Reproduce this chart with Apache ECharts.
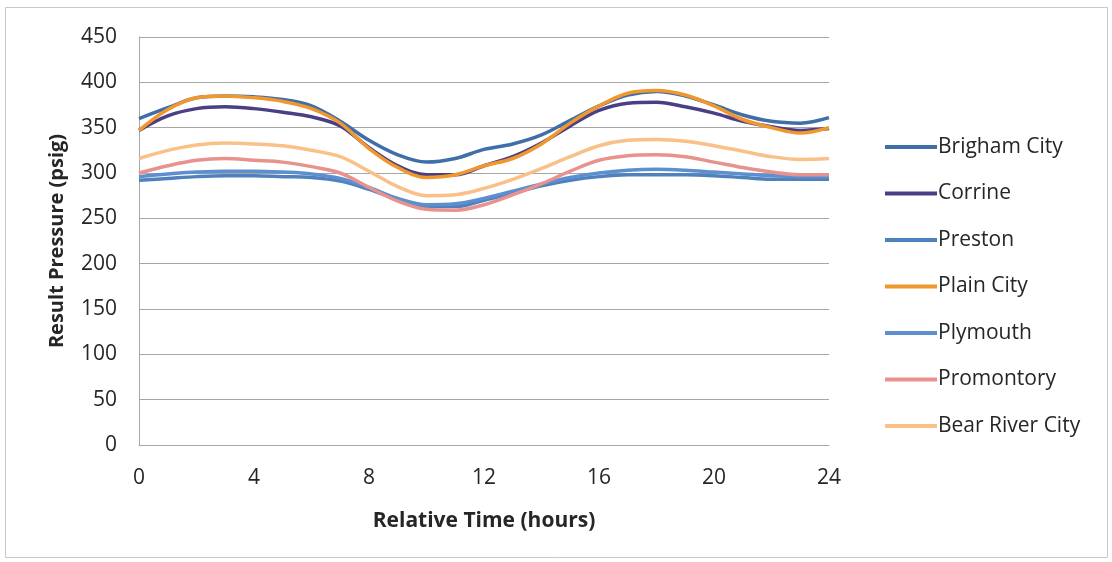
<!DOCTYPE html>
<html>
<head>
<meta charset="utf-8">
<script src="https://cdn.jsdelivr.net/npm/echarts@6/dist/echarts.min.js"></script>
<style>html,body{margin:0;padding:0;background:#fff;}#c{width:1112px;height:562px;}</style>
</head>
<body>
<div id="c"></div>
<script>
const hours = [0,1,2,3,4,5,6,7,8,9,10,11,12,13,14,15,16,17,18,19,20,21,22,23,24];
const brighamCity = [360,372,383,385,384,381,374,357,336,320,312,316,326,332,342,358,374,386,390,385,375,364,357,355,361];
const corrine     = [347,363,371,373,371,367,362,352,328,308,298,298,308,318,333,352,369,377,378,373,366,357,351,347,349];
const preston     = [292,294,296,297,297,296,295,291,282,271,263,263,270,278,286,292,296,298,298,298,297,295,293,293,293];
const plainCity   = [347,370,383,385,383,379,371,355,327,306,295,298,308,316,332,355,374,388,391,386,374,359,350,344,350];
const plymouth    = [296,299,301,302,302,301,299,294,284,272,265,266,272,280,288,295,300,303,304,303,301,299,297,296,296];
const promontory  = [300,308,314,316,314,312,307,300,284,269,260,259,265,276,288,302,314,319,320,318,312,306,301,298,298];
const bearRiver   = [316,325,331,333,332,330,325,318,302,285,275,276,283,293,305,318,330,336,337,335,330,324,318,315,316];
const seriesNames = ['Brigham City','Corrine','Preston','Plain City','Plymouth','Promontory','Bear River City'];
const seriesData = [brighamCity, corrine, preston, plainCity, plymouth, promontory, bearRiver];
const colors = ['#3F6EA8','#4A3F86','#4F81BD','#F0982E','#5B8FD0','#E8928E','#F9C088'];
const xTicks = [0,4,8,12,16,20,24];
const yTicks = [0,50,100,150,200,250,300,350,400,450];

const font = 'Open Sans';
const chart = echarts.init(document.getElementById('c'));
chart.setOption({
  animation: false,
  backgroundColor: '#fff',
  graphic: [{type:'rect', shape:{x:5.5,y:7.5,width:1102,height:550}, style:{fill:'none', stroke:'#C8C8C8', lineWidth:1}}],
  grid: {left:139, right:283, top:37, bottom:117},
  legend: {
    orient:'vertical', left:880, top:131,
    itemWidth:52, itemHeight:4, itemGap:24.5,
    icon:'rect',
    textStyle:{fontFamily:font, fontSize:21, color:'#262626', lineHeight:22, padding:[0,0,0,-4]},
    data: seriesNames
  },
  xAxis: {
    type:'value', min:0, max:24, interval:4,
    name:'Relative Time (hours)', nameLocation:'middle', nameGap:66,
    nameTextStyle:{fontFamily:font, fontSize:21, fontWeight:'bold', color:'#262626'},
    axisLine:{show:true, lineStyle:{color:'#A6A6A6', width:1}},
    axisTick:{show:false},
    axisLabel:{fontFamily:font, fontSize:21, color:'#262626', margin:23},
    splitLine:{show:false}
  },
  yAxis: {
    type:'value', min:0, max:450, interval:50,
    name:'Result Pressure (psig)', nameLocation:'middle', nameGap:72,
    nameTextStyle:{fontFamily:font, fontSize:20, fontWeight:'bold', color:'#262626'},
    axisLine:{show:true, lineStyle:{color:'#A6A6A6', width:1}},
    axisTick:{show:false},
    axisLabel:{fontFamily:font, fontSize:21, color:'#262626', margin:22},
    splitLine:{show:true, lineStyle:{color:'#A6A6A6', width:1}}
  },
  series: seriesNames.map((n,i)=>({
    name:n, type:'line', smooth:0.35, showSymbol:false, symbol:'none',
    data: hours.map((h,j)=>[h, seriesData[i][j]]),
    lineStyle:{color:colors[i], width:3.5},
    itemStyle:{color:colors[i]}
  }))
});
</script>
</body>
</html>
